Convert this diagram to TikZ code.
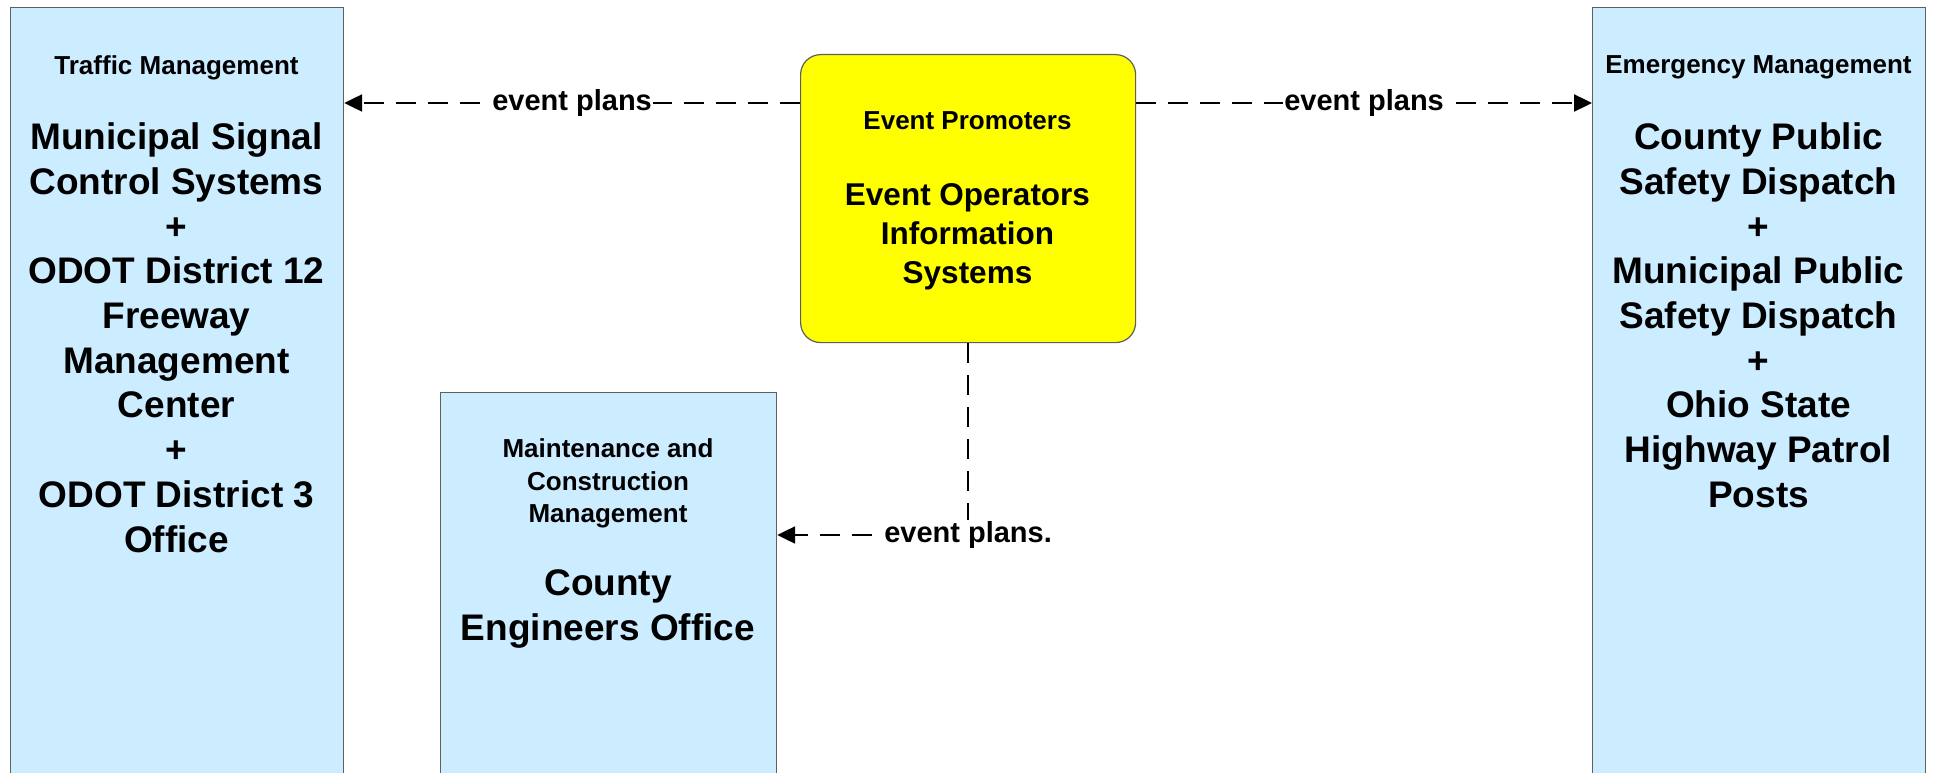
\documentclass[tikz,border=0pt]{standalone}
\usepackage{fontspec}
\setmainfont{Liberation Sans}
\usetikzlibrary{arrows.meta}
\definecolor{boxblue}{RGB}{204,236,255}
\definecolor{edgegray}{RGB}{95,95,95}
\definecolor{evyellow}{RGB}{255,255,0}
\begin{document}
\begin{tikzpicture}[x=1pt,y=-1pt,
  sysbox/.style={draw=edgegray, line width=1.2pt, fill=boxblue, rectangle, anchor=north west, inner sep=0pt},
  evbox/.style={draw=edgegray, line width=1.2pt, fill=evyellow, rectangle, rounded corners=20pt, anchor=north west, inner sep=0pt},
  hdr/.style={font=\bfseries\fontsize{26}{32.7}\selectfont, align=center, inner sep=0pt, anchor=north},
  big/.style={font=\bfseries\fontsize{37}{44.7}\selectfont, align=center, inner sep=0pt, anchor=north},
  ybig/.style={font=\bfseries\fontsize{31.5}{39}\selectfont, align=center, inner sep=0pt, anchor=north},
  flow/.style={line width=2.3pt, dash pattern=on 20pt off 12pt, -{Triangle[length=18pt,width=17pt]}},
  lab/.style={fill=white, inner sep=1.5pt, font=\bfseries\fontsize{29}{34}\selectfont}
]
\useasboundingbox (0,0) rectangle (1937,773);
\fill[white] (0,0) rectangle (1937,773);
\clip (0,0) rectangle (1937,773);

% boxes
\node[sysbox, minimum width=333pt, minimum height=800pt] (tm) at (10,7) {};
\node[sysbox, minimum width=336pt, minimum height=450pt] (mc) at (440,392) {};
\node[sysbox, minimum width=333pt, minimum height=800pt] (em) at (1592,7) {};
\node[evbox, minimum width=335pt, minimum height=288pt] (ev) at (800,54) {};

% texts
\node[hdr] (tmh) at (176.5,55.5) {Traffic Management};
\node[big] (tmb) at (176.5,122.7) {Municipal Signal\\Control Systems\\+\\ODOT District 12\\Freeway\\Management\\Center\\+\\ODOT District 3\\Office};

\node[hdr] (evh) at (967.5,111.5) {Event Promoters};
\node[ybig] (evb) at (967.5,183.5) {Event Operators\\Information\\Systems};

\node[hdr] (mch) at (608,438.5) {Maintenance and\\Construction\\Management};
\node[big] (mcb) at (608,569.7) {County\\Engineers Office};

\node[hdr] (emh) at (1758.5,55.5) {Emergency Management};
\node[big] (emb) at (1758.5,122.7) {County Public\\Safety Dispatch\\+\\Municipal Public\\Safety Dispatch\\+\\Ohio State\\Highway Patrol\\Posts};

% connectors
\coordinate (ya) at (0,103);
\coordinate (yb) at (0,535);
\draw[flow] (ev.west |- ya) -- node[lab] (l1) {event plans} (tm.east |- ya);
\draw[flow] (ev.east |- ya) -- node[lab] (l2) {event plans} (em.west |- ya);
\draw[flow] (ev.south) |- node[lab] (l3) {event plans.} (mc.east |- yb);
\end{tikzpicture}
\end{document}
